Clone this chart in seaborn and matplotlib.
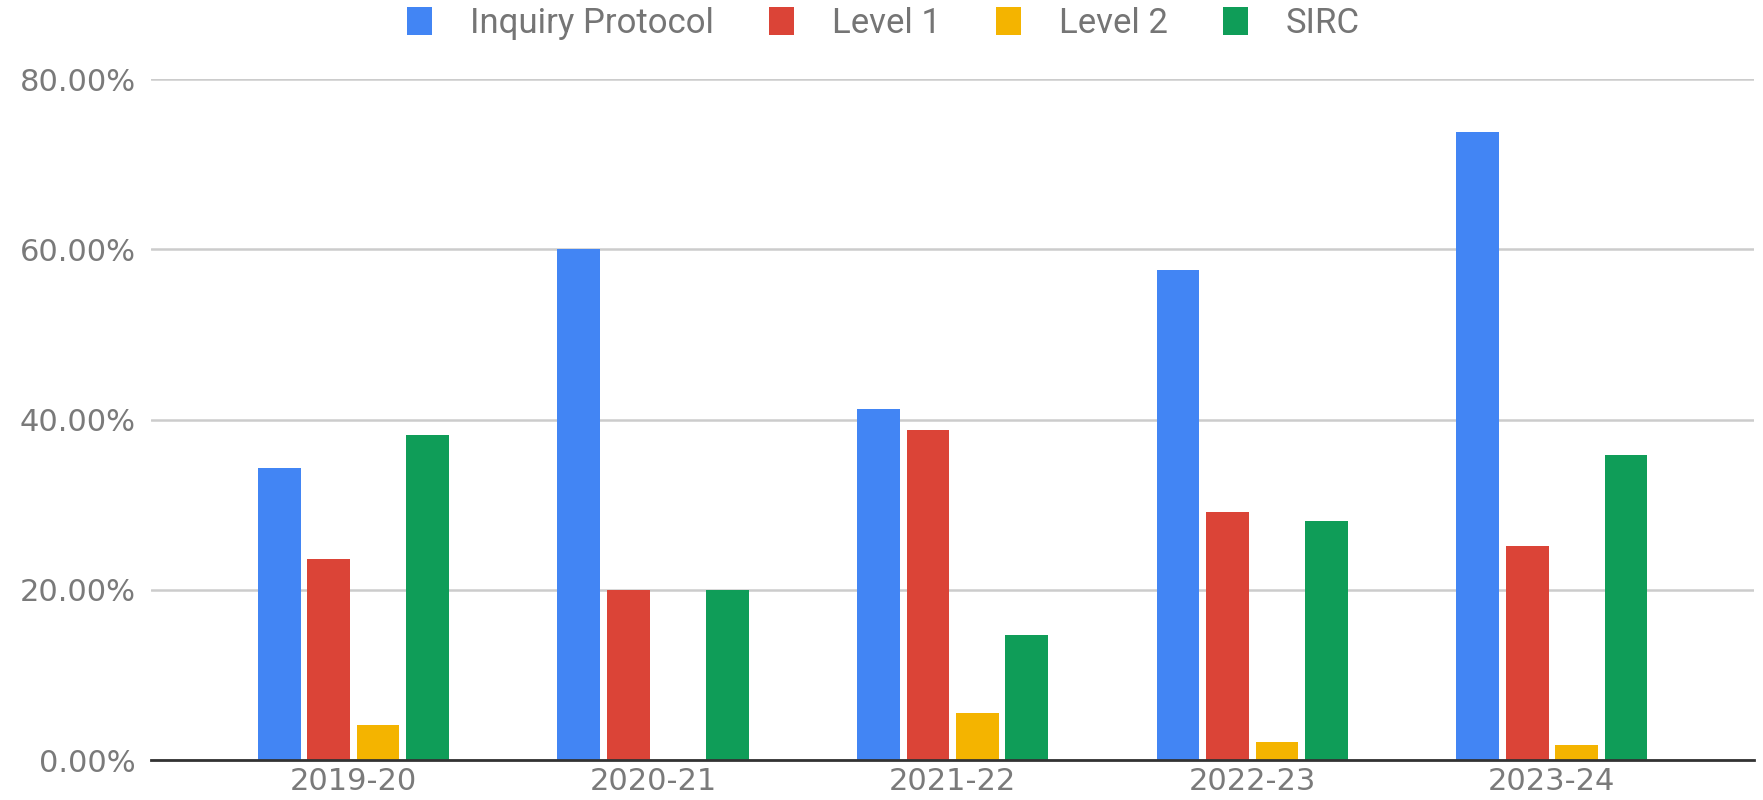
import pandas as pd
import seaborn as sns
import matplotlib.pyplot as plt
from matplotlib.ticker import FuncFormatter

# data (percent)
years = ["2019-20", "2020-21", "2021-22", "2022-23", "2023-24"]
inquiry_protocol = [34.3, 60.1, 41.3, 57.6, 73.8]
level_1 = [23.6, 20.0, 38.8, 29.2, 25.1]
level_2 = [4.1, 0.0, 5.5, 2.1, 1.8]
sirc = [38.2, 20.0, 14.7, 28.1, 35.8]

series = ["Inquiry Protocol", "Level 1", "Level 2", "SIRC"]
colors = ["#4285F4", "#DB4437", "#F4B400", "#0F9D58"]

df = pd.DataFrame({"Year": years, "Inquiry Protocol": inquiry_protocol,
                   "Level 1": level_1, "Level 2": level_2, "SIRC": sirc})
long_df = df.melt(id_vars="Year", var_name="Series", value_name="Pct")

sns.set_style("white")
plt.rcParams["font.family"] = ["Roboto", "DejaVu Sans"]

fig = plt.figure(figsize=(17.63, 8), dpi=100)
ax = fig.add_axes([0.0857, 0.05, 0.9093, 0.851])

sns.barplot(data=long_df, x="Year", y="Pct", hue="Series", hue_order=series,
            palette=colors, width=0.66, gap=0.136, saturation=1,
            edgecolor="none", ax=ax)

ax.set_ylim(0, 80)
ax.set_xlim(-0.675, 4.675)
ax.set_yticks([0, 20, 40, 60, 80])
ax.yaxis.set_major_formatter(FuncFormatter(lambda v, p: f"{v:.2f}%"))
ax.grid(axis="y", color="#cccccc", linewidth=1.8)
ax.set_axisbelow(True)
for s in ["top", "right", "left"]:
    ax.spines[s].set_visible(False)
ax.spines["bottom"].set_color("#333333")
ax.spines["bottom"].set_linewidth(2)
ax.tick_params(axis="both", length=0, labelsize=22, labelcolor="#7a7a7a")
ax.tick_params(axis="y", pad=11)
ax.tick_params(axis="x", pad=5)
for lab in ax.get_xticklabels() + ax.get_yticklabels():
    lab.set_family("DejaVu Sans")
ax.set_xlabel("")
ax.set_ylabel("")

ax.legend(loc="upper center", bbox_to_anchor=(0.457, 1.152), ncol=4,
          frameon=False, fontsize=25, labelcolor="#757575",
          handlelength=0.7, handleheight=0.85, handletextpad=1.1,
          columnspacing=1.6)

fig.savefig("out.png", dpi=100)
